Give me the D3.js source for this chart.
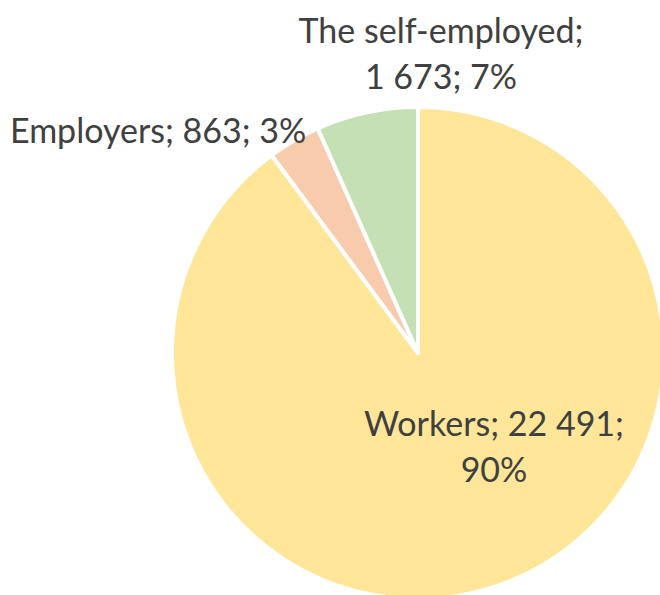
<!DOCTYPE html>
<html>
<head>
<meta charset="utf-8">
<script src="https://cdn.jsdelivr.net/npm/d3@7"></script>
<style>
	body { margin: 0; background: #ffffff; }
	.pie-label { font-family: Lato, 'Open Sans', sans-serif; font-size: 34px; fill: #404040; }
</style>
</head>
<body>
<svg id="chart" width="660" height="595"></svg>
<script>
var aCategories = ['Workers', 'Employers', 'The self-employed'];
var aValues = [22491, 863, 1673];
var aValueText = ['22 491', '863', '1 673'];
var aColors = ['#FFE699', '#F8CBAD', '#C5E0B4'];

var sSvg = d3.select('#chart');

var nCx = 418;
var nCy = 353;
var fRadius = 246;

var nTotal = d3.sum(aValues);

var aData = aCategories.map(function(name, i)
{
	return { name: name, value: aValues[i], text: aValueText[i], color: aColors[i] };
});

var fnPie = d3.pie()
	.value(function(d) { return d.value; })
	.sort(null);

var fnArc = d3.arc()
	.innerRadius(0)
	.outerRadius(fRadius);

var aArcs = fnPie(aData);

var sG = sSvg.append('g')
	.attr('transform', 'translate(' + nCx + ',' + nCy + ')');

sG.selectAll('path')
	.data(aArcs)
	.enter()
		.append('path')
			.attr('d', fnArc)
			.attr('fill', function(d) { return d.data.color; })
			.attr('stroke', '#ffffff')
			.attr('stroke-width', 4)
			.attr('stroke-linejoin', 'round');

function Pct(v)
{
	return Math.round(v / nTotal * 100) + '%';
}

// label lines, placed like the Excel data labels
var aLabelLines = [
	{ lines: [aData[0].name + '; ' + aData[0].text + ';', Pct(aData[0].value)], x: 494, y: 436, anchor: 'middle' },
	{ lines: [aData[1].name + '; ' + aData[1].text + '; ' + Pct(aData[1].value)], x: 10, y: 143, anchor: 'start' },
	{ lines: [aData[2].name + ';', aData[2].text + '; ' + Pct(aData[2].value)], x: 441, y: 43, anchor: 'middle' }
];

aLabelLines.forEach(function(lbl)
{
	var sText = sSvg.append('text')
		.attr('class', 'pie-label')
		.attr('text-anchor', lbl.anchor);
	lbl.lines.forEach(function(line, i)
	{
		sText.append('tspan')
			.attr('x', lbl.x)
			.attr('y', lbl.y + i * 46)
			.text(line);
	});
});
</script>
</body>
</html>
